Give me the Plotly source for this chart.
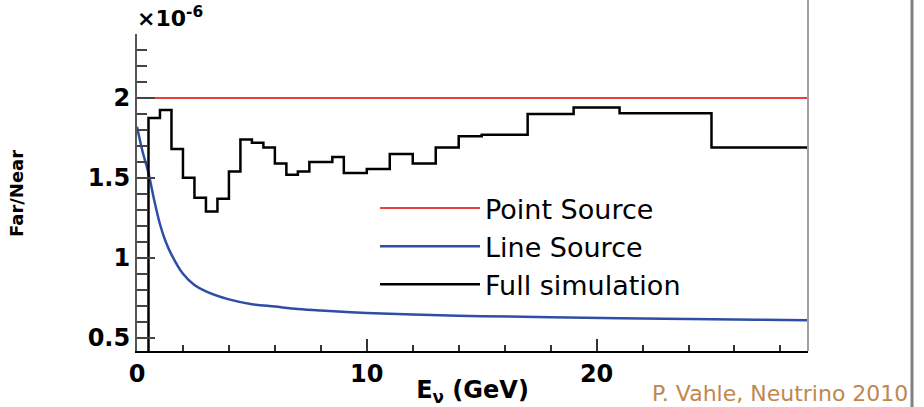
import plotly.graph_objects as go

# ---- data (ratio values in units of 1e-6) ----
full_sim_edges = [0, 0.5, 1, 1.5, 2, 2.5, 3, 3.5, 4, 4.5, 5, 5.5, 6, 6.5, 7, 7.5,
                  8.5, 9, 10, 11, 12, 13, 14, 15, 17, 19, 21, 25, 30]
full_sim_values = [0.0, 1.875, 1.925, 1.68, 1.50, 1.375, 1.29, 1.37, 1.54, 1.74,
                   1.72, 1.69, 1.59, 1.52, 1.54, 1.60, 1.63, 1.53, 1.556, 1.65,
                   1.59, 1.69, 1.76, 1.77, 1.90, 1.94, 1.905, 1.69]

line_src_energy = [0, 0.25, 0.5, 0.75, 1.0, 1.25, 1.5, 2, 2.5, 3, 4, 5, 6, 7, 8,
                   10, 12, 15, 18, 21, 24, 27, 29.2]
line_src_values = [1.82, 1.66, 1.53, 1.36, 1.21, 1.10, 1.02, 0.90, 0.83, 0.79,
                   0.74, 0.71, 0.695, 0.68, 0.67, 0.655, 0.645, 0.635, 0.628,
                   0.622, 0.617, 0.612, 0.61]

point_src_energy = [0, 30]
point_src_values = [2.0, 2.0]

x_major_ticks = [0, 10, 20]
y_major_ticks = [0.5, 1, 1.5, 2]
y_tick_text = ["0.5", "1", "1.5", "2"]

# step histogram points (last value repeated at final edge)
hist_y = full_sim_values + [full_sim_values[-1]]

fig = go.Figure()
fig.add_trace(go.Scatter(x=point_src_energy, y=point_src_values, mode="lines",
                         name="Point Source", line=dict(color="#e8413a", width=2)))
fig.add_trace(go.Scatter(x=line_src_energy, y=line_src_values, mode="lines",
                         name="Line Source", line=dict(color="#2e4ea6", width=2.5,
                                                       shape="spline")))
fig.add_trace(go.Scatter(x=full_sim_edges, y=hist_y, mode="lines",
                         name="Full simulation",
                         line=dict(color="black", width=2.5, shape="hv")))

W, H = 924, 407
L, R, T, B = 137, 116, 34, 56
pw, ph = W - L - R, H - T - B

def px_x(x):
    return (x - L) / pw

def px_y(y):
    return (H - B - y) / ph

fig.update_layout(
    width=W, height=H,
    margin=dict(l=L, r=R, t=T, b=B, pad=0, autoexpand=False),
    paper_bgcolor="white", plot_bgcolor="white",
    font=dict(family="DejaVu Sans", color="black"),
    showlegend=True,
    legend=dict(x=px_x(375), y=px_y(184), xanchor="left", yanchor="top",
                font=dict(family="DejaVu Sans", size=27, color="black"),
                bgcolor="rgba(0,0,0,0)", itemwidth=100, tracegroupgap=0),
    xaxis=dict(range=[0, 29.2], showgrid=False, zeroline=False,
               automargin=False,
               showline=True, linecolor="black", linewidth=2,
               tickvals=x_major_ticks, ticks="inside", ticklen=12,
               tickwidth=2, tickcolor="#333",
               tickfont=dict(family="DejaVu Sans", size=24, weight="bold"),
               minor=dict(dtick=2, ticks="inside", ticklen=6, tickwidth=2,
                          tickcolor="#333"),
               title=dict(text="E<sub>ν</sub> (GeV)", standoff=0,
                          font=dict(family="DejaVu Sans", size=24,
                                    weight="bold"))),
    yaxis=dict(range=[0.417, 2.4], showgrid=False, zeroline=False,
               automargin=False,
               showline=True, linecolor="#555", linewidth=2,
               tickvals=y_major_ticks, ticktext=y_tick_text,
               ticks="inside", ticklen=18, tickwidth=2, tickcolor="#444",
               tickfont=dict(family="DejaVu Sans", size=24, weight="bold"),
               minor=dict(dtick=0.1, ticks="inside", ticklen=10, tickwidth=2,
                          tickcolor="#444")),
    shapes=[
        dict(type="line", xref="paper", yref="paper", x0=1.0, x1=1.0,
             y0=0, y1=px_y(0), line=dict(color="#a0a0a0", width=2)),
        dict(type="line", xref="paper", yref="paper", x0=px_x(912),
             x1=px_x(912), y0=px_y(H), y1=px_y(0),
             line=dict(color="#808080", width=3)),
    ],
    annotations=[
        dict(text="×10<sup>-6</sup>", xref="paper", yref="paper",
             x=px_x(135), y=px_y(17), xanchor="left", yanchor="middle",
             showarrow=False,
             font=dict(family="DejaVu Sans", size=22, weight="bold")),
        dict(text="Far/Near", xref="paper", yref="paper",
             x=px_x(16), y=px_y(194), textangle=-90, showarrow=False,
             xanchor="center", yanchor="middle",
             font=dict(family="DejaVu Sans", size=18, weight="bold")),
        dict(text="P. Vahle, Neutrino 2010", xref="paper", yref="paper",
             x=px_x(910), y=px_y(393), xanchor="right", yanchor="middle",
             showarrow=False,
             font=dict(family="DejaVu Sans", size=22, color="#c0874f")),
    ],
)

fig.write_html("out.html")
